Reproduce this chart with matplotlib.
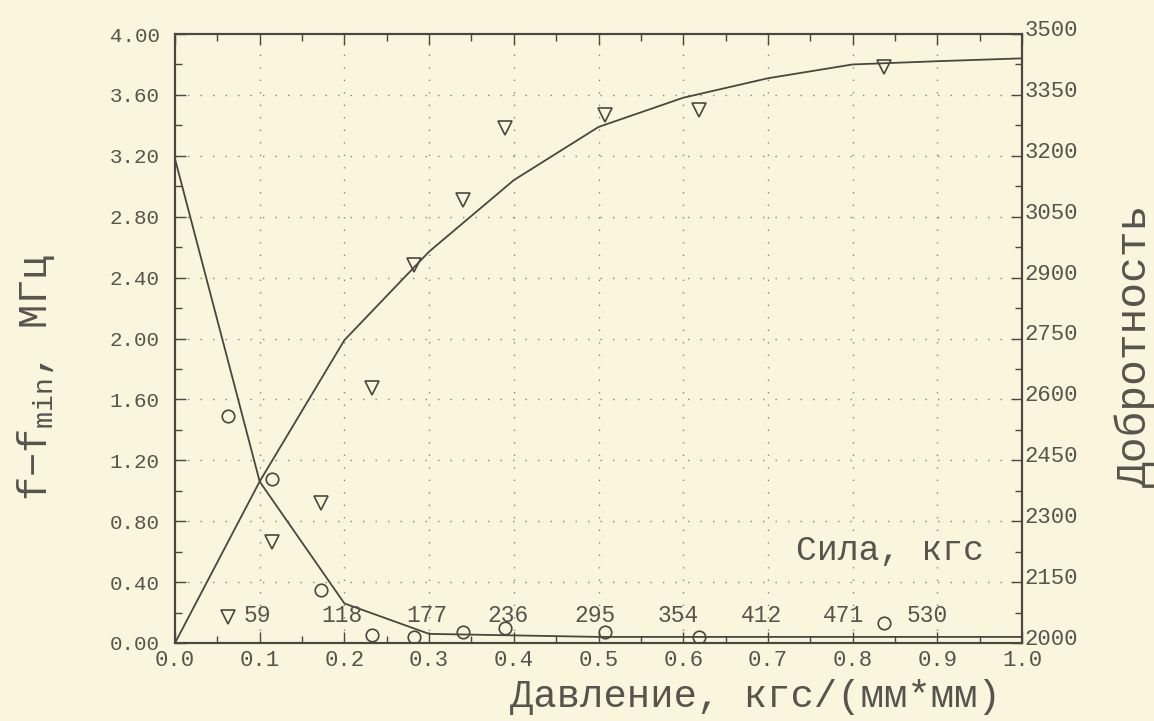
import matplotlib
matplotlib.use("Agg")
import matplotlib.pyplot as plt
import matplotlib.transforms as mtransforms
from matplotlib.ticker import MultipleLocator, FormatStrFormatter

# ---- data ----
x_pts = [0.063, 0.115, 0.172, 0.233, 0.282, 0.340, 0.390, 0.508, 0.619, 0.837]
df_pts = [1.49, 1.08, 0.35, 0.05, 0.04, 0.07, 0.10, 0.07, 0.04, 0.13]          # f - fmin, MHz (circles)
q_pts = [2064, 2248, 2345, 2628, 2930, 3091, 3268, 3301, 3313, 3418]           # Q (triangles)

x_fit = [0.0, 0.1, 0.2, 0.3, 0.4, 0.5, 0.6, 0.7, 0.8, 0.9, 1.0]
df_fit = [3.18, 1.06, 0.26, 0.06, 0.05, 0.04, 0.04, 0.04, 0.04, 0.04, 0.04]
q_fit = [2000, 2398, 2746, 2964, 3140, 3271, 3343, 3391, 3425, 3433, 3440]

force_labels = ["59", "118", "177", "236", "295", "354", "412", "471", "530"]
force_x = [0.097, 0.197, 0.297, 0.393, 0.496, 0.594, 0.693, 0.789, 0.888]

q_ticks = [2000, 2150, 2300, 2450, 2600, 2750, 2900, 3050, 3200, 3350, 3500]
q_minor = [2075, 2225, 2375, 2525, 2675, 2825, 2975, 3125, 3275, 3425]

bg = "#faf5dc"
ink = "#4a4640"
txt = "#57544e"
mono = "Liberation Mono"

plt.rcParams["mathtext.fontset"] = "custom"
plt.rcParams["mathtext.rm"] = mono
plt.rcParams["mathtext.it"] = mono

fig = plt.figure(figsize=(11.54, 7.21), dpi=100, facecolor=bg)
ax = fig.add_axes([175/1154, 1-643/721, (1022-175)/1154, (643-34)/721])
ax.set_facecolor(bg)
ax2 = ax.twinx()

ax.set_xlim(0, 1.0)
ax.set_ylim(0, 4.0)
ax2.set_ylim(2000, 3500)

# grid
for gx in [0.1*i for i in range(1, 10)]:
    ax.axvline(gx, color="#8a857a", lw=1.0, ls=(0, (1, 8)), zorder=0)
for gy in [0.4*i for i in range(1, 10)]:
    ax.axhline(gy, color="#8a857a", lw=1.0, ls=(0, (1, 8)), zorder=0)

# curves
ax.plot(x_fit, df_fit, color=ink, lw=1.3, zorder=3)
ax.plot(x_pts, df_pts, ls="none", marker="o", ms=9, mfc="none", mec=ink, mew=1.2, zorder=4)
ax2.plot(x_fit, q_fit, color=ink, lw=1.3, zorder=3)
ax2.plot(x_pts, q_pts, ls="none", marker="v", ms=10, mfc="none", mec=ink, mew=1.2, zorder=4)

# force labels
for fx, fl in zip(force_x, force_labels):
    ax.text(fx, 0.18, fl, fontsize=16.5, family=mono, color=txt, ha="center", va="center")
ax.text(0.844, 0.61, "Сила, кгс", fontsize=25, family=mono, color=txt, ha="center", va="center")

# ticks
ax.xaxis.set_major_locator(MultipleLocator(0.1))
ax.xaxis.set_minor_locator(MultipleLocator(0.05))
ax.yaxis.set_major_locator(MultipleLocator(0.4))
ax.yaxis.set_minor_locator(MultipleLocator(0.2))
ax2.set_yticks(q_ticks)
ax2.set_yticks(q_minor, minor=True)
ax.xaxis.set_major_formatter(FormatStrFormatter("%.1f"))
ax.yaxis.set_major_formatter(FormatStrFormatter("%.2f"))
ax2.yaxis.set_major_formatter(FormatStrFormatter("%d"))

ax.tick_params(axis="x", which="both", direction="in", top=True, colors=ink, labelcolor=txt,
               labelsize=16, pad=5)
ax.tick_params(axis="y", which="both", direction="in", right=False, colors=ink, labelcolor=txt,
               labelsize=15, pad=11)
ax2.tick_params(axis="y", which="both", direction="in", colors=ink, labelcolor=txt,
                labelsize=16, pad=2)
for a in (ax, ax2):
    a.tick_params(which="major", length=8, width=1.0)
    a.tick_params(which="minor", length=5, width=1.0)
for lab in ax.get_xticklabels() + ax.get_yticklabels() + ax2.get_yticklabels():
    lab.set_family(mono)
shift_up = mtransforms.ScaledTranslation(0, 6/100, fig.dpi_scale_trans)
for lab in ax2.get_yticklabels():
    lab.set_transform(lab.get_transform() + shift_up)

for a in (ax, ax2):
    for s in a.spines.values():
        s.set_color(ink)
        s.set_linewidth(1.5)

# axis titles
fig.text(755/1154, 1-697/721, "Давление, кгс/(мм*мм)", fontsize=28, family=mono, color=txt,
         ha="center", va="center")
fig.text(36/1154, 1-378/721, "f−f$_{\\rm min}$, МГц", fontsize=29, family=mono, color=txt,
         ha="center", va="center", rotation=90)
fig.text(1135/1154, 1-345/721, "Добротность", fontsize=31, family=mono, color=txt,
         ha="center", va="center", rotation=90)

fig.savefig("out.png", dpi=100, facecolor=bg)
